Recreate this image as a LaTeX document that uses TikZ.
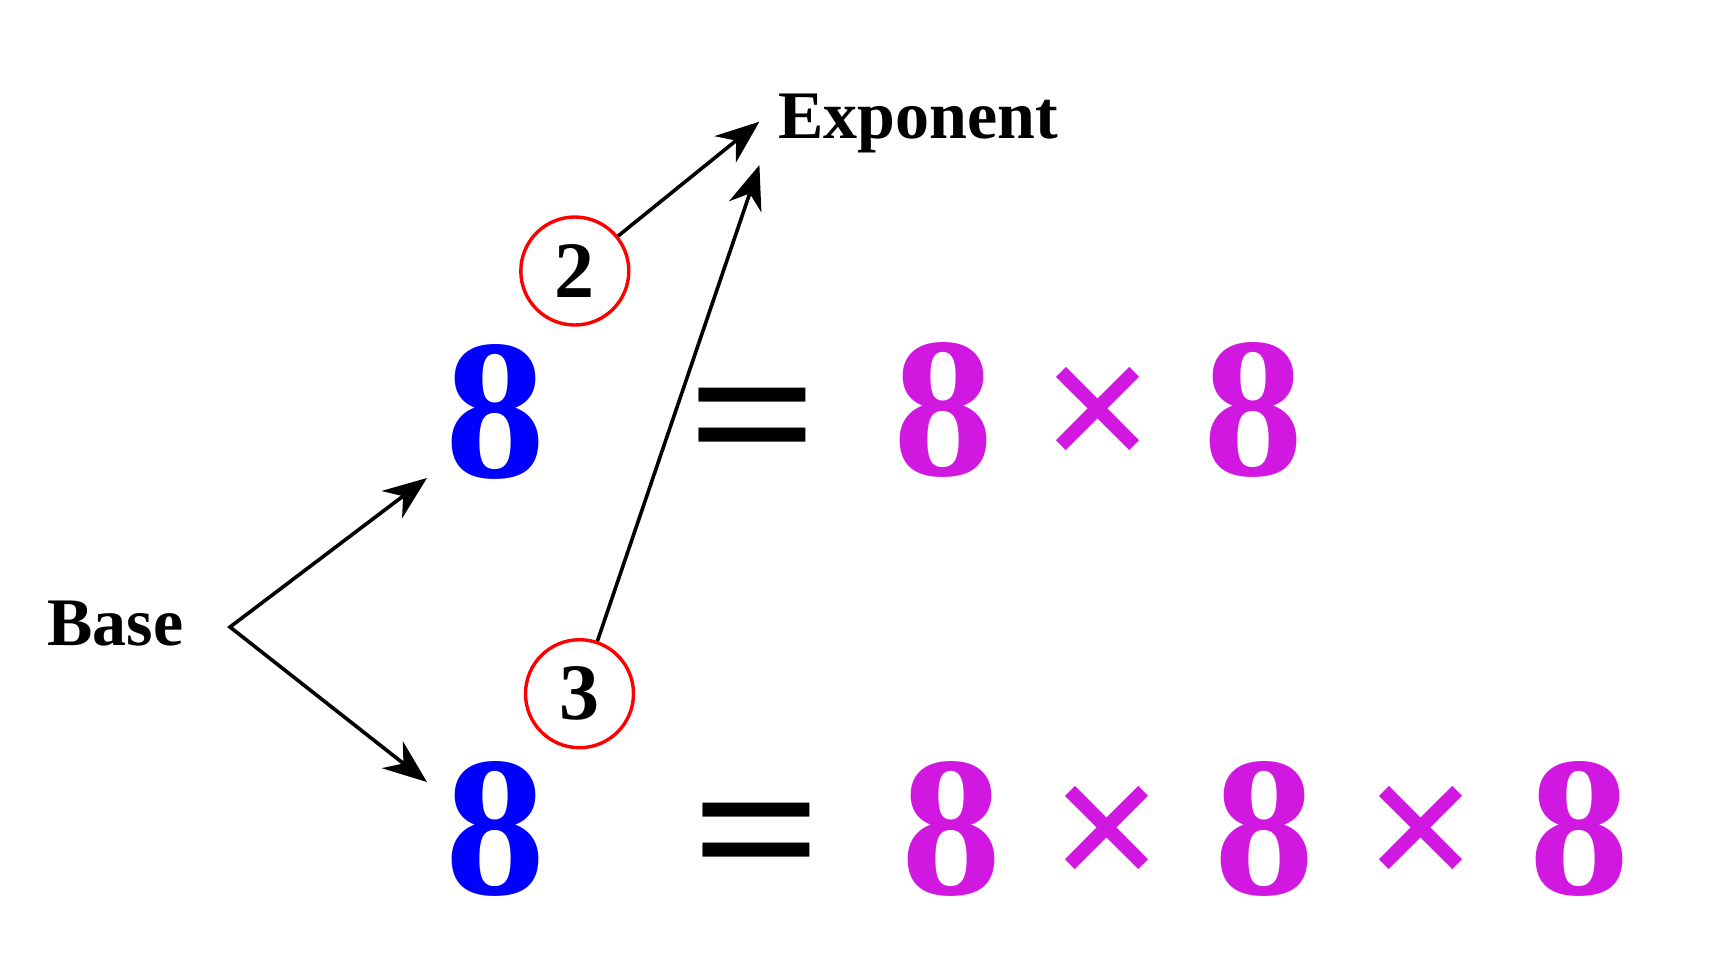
\documentclass[tikz,border=0pt]{standalone}
\usepackage{fontspec}
\setmainfont{Liberation Serif}
\usetikzlibrary{arrows.meta}
\definecolor{mag}{RGB}{208,24,224}
\begin{document}
\begin{tikzpicture}[x=0.5pt,y=-0.5pt,
  big/.style={inner sep=0pt, font=\fontsize{100}{100}\selectfont\bfseries},
  lab/.style={inner sep=0pt, font=\fontsize{34}{34}\selectfont\bfseries},
  circ/.style={circle, draw=red, line width=1.7pt, minimum size=54pt, inner sep=0pt,
    font=\fontsize{40}{40}\selectfont\bfseries},
  arr/.style={-{Stealth[length=22pt,width=17pt,inset=7pt]}, line width=1.8pt}]
\useasboundingbox (0,0) rectangle (1717,965);
% labels
\node[lab, anchor=base west] (base) at (47,645) {Base};
\node[lab, anchor=base west] (exp) at (778,138.3) {Exponent};
% row 1
\node[big, text=blue] (b1) at (495.5,411.5) {8};
\node[big] (eq1) at (753,435) {\scalebox{1.15}[1]{=}};
\node[big, text=mag] (m11) at (943.5,410) {8};
\node[big, text=mag] (x11) at (1098.5,421) {×};
\node[big, text=mag] (m12) at (1253.5,410) {8};
% row 2
\node[big, text=blue] (b2) at (495.5,828.7) {8};
\node[big] (eq2) at (757.5,850) {\scalebox{1.15}[1]{=}};
\node[big, text=mag] (m21) at (951.4,828.7) {8};
\node[big, text=mag] (x21) at (1107.8,840) {×};
\node[big, text=mag] (m22) at (1264.8,828.7) {8};
\node[big, text=mag] (x22) at (1421.4,840) {×};
\node[big, text=mag] (m23) at (1579,828.7) {8};
% exponents
\node[circ] (c2) at (574.8,271) {2};
\node[circ] (c3) at (579.5,693.7) {3};
% connector points
\coordinate (v) at (230,627);
\coordinate (t1) at (427,478);
\coordinate (t2) at (427,782);
\coordinate (e1) at (759.4,121.7);
\coordinate (e2) at (759.4,165);
\draw[arr, {Stealth[length=22pt,width=17pt,inset=7pt]}-{Stealth[length=22pt,width=17pt,inset=7pt]}] (t1) -- (v) -- (t2);
\draw[arr] (c2) -- (e1);
\draw[arr] (c3) -- (e2);
\end{tikzpicture}
\end{document}
